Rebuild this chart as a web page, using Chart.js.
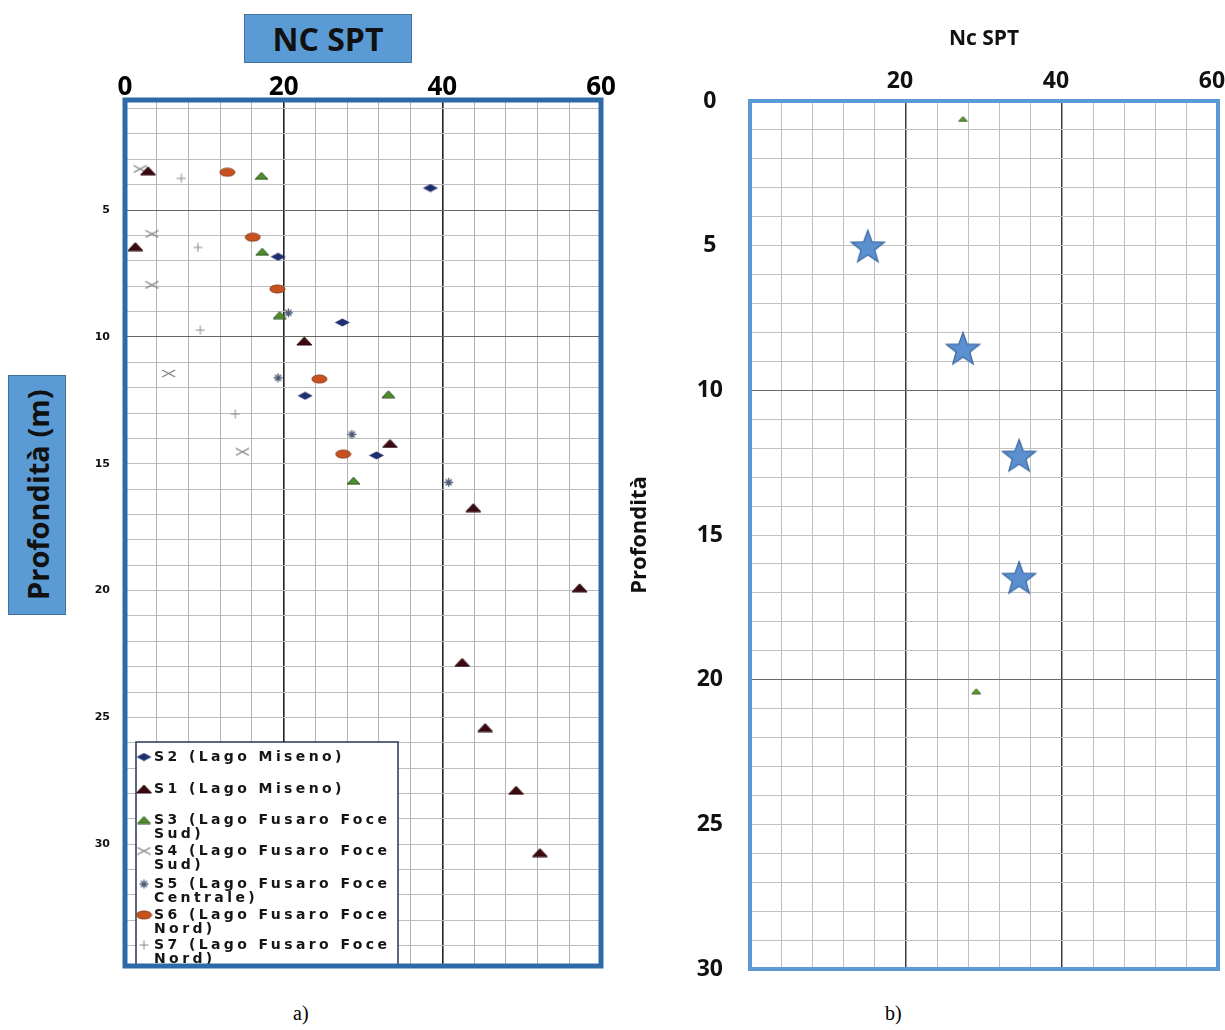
<!DOCTYPE html>
<html>
<head>
<meta charset="utf-8">
<script src="https://cdn.jsdelivr.net/npm/chart.js@4.4.1/dist/chart.umd.min.js"></script>
<style>
  body { margin: 0; background: #fff; width: 1225px; height: 1030px; position: relative; overflow: hidden; font-family: "Open Sans", sans-serif; }
  .box { position: absolute; background: #5b9bd5; border: 1px solid #41719c; color: #111; font-weight: bold; display: flex; align-items: center; justify-content: center; box-sizing: border-box; }
  #ncTitle { left: 244px; top: 14px; width: 168px; height: 49px; font-size: 32px; }
  #depthTitle { left: 8px; top: 375px; width: 58px; height: 240px; font-size: 29px; writing-mode: vertical-rl; transform: rotate(180deg); }
  .cap { position: absolute; top: 1002px; font-family: "Liberation Serif", serif; font-size: 20px; color: #000; }
  #wrapA { position: absolute; left: 70px; top: 0; }
  #wrapB { position: absolute; left: 620px; top: 0; }
</style>
</head>
<body>
<div class="box" id="ncTitle">NC SPT</div>
<div class="box" id="depthTitle">Profondità (m)</div>
<div id="wrapA"><canvas id="chartA" width="550" height="980"></canvas></div>
<div id="wrapB"><canvas id="chartB" width="616" height="987"></canvas></div>
<div class="cap" style="left:293px">a)</div>
<div class="cap" style="left:885px">b)</div>

<script>
// ---- dati pannello a) : N SPT (x) e profondità in m (y)
const s2N = [38.5, 19.3, 27.4, 22.7, 31.7];
const s2Z = [4.13, 6.84, 9.43, 12.32, 14.67];
const s1N = [2.9, 1.3, 22.6, 33.4, 43.9, 57.3, 42.5, 45.4, 49.3, 52.3];
const s1Z = [3.45, 6.44, 10.16, 14.2, 16.73, 19.89, 22.83, 25.4, 27.87, 30.33];
const s3N = [17.2, 17.3, 19.5, 33.2, 28.8];
const s3Z = [3.65, 6.64, 9.14, 12.26, 15.67];
const s4N = [1.9, 3.4, 3.4, 5.5, 14.8];
const s4Z = [3.38, 5.94, 7.95, 11.44, 14.53];
const s5N = [20.6, 19.3, 28.6, 40.8];
const s5Z = [9.05, 11.61, 13.84, 15.73];
const s6N = [12.9, 16.1, 19.2, 24.5, 27.5];
const s6Z = [3.51, 6.07, 8.11, 11.66, 14.62];
const s7N = [7.1, 9.2, 9.5, 13.9];
const s7Z = [3.75, 6.47, 9.73, 13.04];
const legendLabels = [
  "S2 (Lago Miseno)",
  "S1 (Lago Miseno)",
  "S3 (Lago Fusaro Foce\nSud)",
  "S4 (Lago Fusaro Foce\nSud)",
  "S5 (Lago Fusaro Foce\nCentrale)",
  "S6 (Lago Fusaro Foce\nNord)",
  "S7 (Lago Fusaro Foce\nNord)"
];

// ---- dati pannello b)
const starN = [15.1, 27.3, 34.5, 34.5];
const starZ = [5.02, 8.55, 12.25, 16.47];
const greenN = [27.3, 29.0];
const greenZ = [0.62, 20.4];

const xTicksA = [0, 20, 40, 60];
const xTicksB = [20, 40, 60];
const depthTicks = [0, 5, 10, 15, 20, 25, 30];

const pts = (xs, ys) => xs.map((x, i) => ({ x: x, y: ys[i] }));

// marker disegnati su canvas (forme schiacciate come nella scansione)
function marker(w, h, draw) {
  const c = document.createElement("canvas");
  c.width = w; c.height = h;
  draw(c.getContext("2d"), w, h);
  return c;
}
function tri(fill, stroke, w, h) {
  return marker(w, h, (g) => {
    g.fillStyle = fill; g.strokeStyle = stroke; g.lineWidth = 1;
    g.beginPath(); g.moveTo(w / 2, 1); g.lineTo(w - 1, h - 1); g.lineTo(1, h - 1); g.closePath();
    g.fill(); g.stroke();
  });
}
const mS1 = tri("#3b0a10", "#2a0508", 17, 10);
const mS3 = tri("#4e8f2a", "#2d4f1a", 15, 9);
const mGreenSmall = tri("#5a9a2a", "#3a5f1e", 11, 7);
const mS2 = marker(16, 9, (g, w, h) => {
  g.fillStyle = "#1f2f6e";
  g.beginPath(); g.moveTo(0.5, h / 2); g.lineTo(w / 2, 0.5); g.lineTo(w - 0.5, h / 2); g.lineTo(w / 2, h - 0.5); g.closePath(); g.fill();
});
const mS6 = marker(17, 10, (g, w, h) => {
  g.fillStyle = "#c8521e"; g.strokeStyle = "#8a3a1a"; g.lineWidth = 1;
  g.beginPath(); g.ellipse(w / 2, h / 2, w / 2 - 1, h / 2 - 1, 0, 0, Math.PI * 2); g.fill(); g.stroke();
});
const mS4 = marker(15, 9, (g, w, h) => {
  g.strokeStyle = "#7a7a7a"; g.lineWidth = 1.2;
  g.beginPath(); g.moveTo(1, 1); g.lineTo(w - 1, h - 1); g.moveTo(1, h - 1); g.lineTo(w - 1, 1); g.stroke();
});
const mS5 = marker(11, 11, (g, w, h) => {
  g.strokeStyle = "#4d5d75"; g.lineWidth = 1.3;
  g.beginPath(); g.moveTo(w / 2, 1); g.lineTo(w / 2, h - 1); g.moveTo(1, h / 2); g.lineTo(w - 1, h / 2);
  g.moveTo(2.5, 2.5); g.lineTo(w - 2.5, h - 2.5); g.moveTo(2.5, h - 2.5); g.lineTo(w - 2.5, 2.5); g.stroke();
});
const mS7 = marker(10, 10, (g, w, h) => {
  g.strokeStyle = "#8a8a8a"; g.lineWidth = 1;
  g.beginPath(); g.moveTo(w / 2, 0.5); g.lineTo(w / 2, h - 0.5); g.moveTo(0.5, h / 2); g.lineTo(w - 0.5, h / 2); g.stroke();
});
const mStar = marker(38, 36, (g, w, h) => {
  const cx = w / 2, cy = h / 2 + 1.5, R = 17.5, r = 7.2;
  g.beginPath();
  for (let i = 0; i < 10; i++) {
    const a = -Math.PI / 2 + i * Math.PI / 5;
    const rr = i % 2 === 0 ? R : r;
    g.lineTo(cx + rr * Math.cos(a), cy + rr * Math.sin(a));
  }
  g.closePath();
  g.fillStyle = "#5b8fd0"; g.fill();
  g.strokeStyle = "#3b679e"; g.lineWidth = 1.2; g.stroke();
});

// cornice spessa attorno all'area del grafico
const framePlugin = {
  id: "frame",
  afterDraw(chart, args, opts) {
    const { ctx, chartArea: a } = chart;
    ctx.save();
    ctx.strokeStyle = opts.color;
    ctx.lineWidth = opts.width;
    ctx.strokeRect(a.left, a.top, a.right - a.left, a.bottom - a.top);
    ctx.restore();
  }
};

// legenda dentro l'area del grafico, tagliata in basso come nell'originale
const insideLegend = {
  id: "insideLegend",
  afterDatasetsDraw(chart) {
    const { ctx, chartArea: a } = chart;
    const x0 = a.left + 11, y0 = a.bottom - 224, w = 262;
    const rows = [15, 47, 78, 109, 142, 173, 203];
    ctx.save();
    ctx.beginPath(); ctx.rect(a.left, a.top, a.right - a.left, a.bottom - a.top); ctx.clip();
    ctx.fillStyle = "#fff"; ctx.fillRect(x0, y0, w, 240);
    ctx.strokeStyle = "#2a3550"; ctx.lineWidth = 1.5; ctx.strokeRect(x0, y0, w, 240);
    ctx.font = 'bold 14px "DejaVu Sans"';
    ctx.letterSpacing = "3.4px";
    ctx.fillStyle = "#151515";
    ctx.textBaseline = "middle";
    chart.data.datasets.forEach((ds, i) => {
      const y = y0 + rows[i];
      const img = ds.pointStyle;
      ctx.drawImage(img, x0 + 8 - img.width / 2, y - img.height / 2);
      ds.label.split("\n").forEach((line, k) => ctx.fillText(line, x0 + 18, y + k * 14));
    });
    ctx.restore();
  }
};

Chart.defaults.animation = false;

// niente margini automatici dovuti alle etichette: l'area del grafico la decide layout.padding
function fixX(h) { return (s) => { s.height = h; s.paddingLeft = 0; s.paddingRight = 0; }; }
function fixY(w) { return (s) => { s.width = w; s.paddingTop = 0; s.paddingBottom = 0; }; }

function ds(label, xs, ys, img) {
  return { label: label, data: pts(xs, ys), pointStyle: img, pointRadius: 6, pointHoverRadius: 6 };
}

// ---------------- pannello a)
new Chart(document.getElementById("chartA"), {
  type: "scatter",
  plugins: [framePlugin, insideLegend],
  data: {
    datasets: [
      ds(legendLabels[0], s2N, s2Z, mS2),
      ds(legendLabels[1], s1N, s1Z, mS1),
      ds(legendLabels[2], s3N, s3Z, mS3),
      ds(legendLabels[3], s4N, s4Z, mS4),
      ds(legendLabels[4], s5N, s5Z, mS5),
      ds(legendLabels[5], s6N, s6Z, mS6),
      ds(legendLabels[6], s7N, s7Z, mS7)
    ]
  },
  options: {
    responsive: false,
    layout: { padding: { right: 19, bottom: 14 } },
    plugins: {
      legend: { display: false },
      tooltip: { enabled: false },
      frame: { color: "#2f6aa8", width: 5 }
    },
    scales: {
      x: {
        type: "linear", position: "top", min: 0, max: 60,
        afterFit: fixX(100),
        border: { display: false },
        grid: {
          drawTicks: false,
          color: (c) => (c.tick.value === 20 || c.tick.value === 40) ? "#222" : "#b3b3b3",
          lineWidth: (c) => (c.tick.value === 20 || c.tick.value === 40) ? 1.6 : 1
        },
        ticks: {
          stepSize: 4, autoSkip: false, maxRotation: 0, padding: -3, color: "#000",
          font: { family: "Open Sans", size: 26, weight: "bold" },
          callback: (v) => xTicksA.includes(v) ? v : ""
        }
      },
      y: {
        type: "linear", reverse: true, min: 0.66, max: 34.8,
        afterFit: fixY(55),
        border: { display: false },
        grid: {
          drawTicks: false,
          color: (c) => (c.tick.value === 5 || c.tick.value === 10) ? "#666" : "#bdbdbd"
        },
        ticks: {
          stepSize: 1, autoSkip: false, includeBounds: false, padding: 15, color: "#111",
          font: { family: "DejaVu Sans", size: 11, weight: "bold" },
          callback: (v) => depthTicks.includes(v) ? v : ""
        }
      }
    }
  }
});

// ---------------- pannello b)
new Chart(document.getElementById("chartB"), {
  type: "scatter",
  plugins: [framePlugin],
  data: {
    datasets: [
      { label: "S3", data: pts(greenN, greenZ), pointStyle: mGreenSmall, pointRadius: 4 },
      { label: "Nc SPT", data: pts(starN, starZ), pointStyle: mStar, pointRadius: 17 }
    ]
  },
  options: {
    responsive: false,
    layout: { padding: { right: 7, bottom: 12 } },
    plugins: {
      legend: { display: false },
      tooltip: { enabled: false },
      frame: { color: "#5b9bd5", width: 4 }
    },
    scales: {
      x: {
        type: "linear", position: "top", min: 0, max: 60,
        afterFit: fixX(101),
        border: { display: false },
        title: {
          display: true, text: "Nc SPT", color: "#111",
          font: { family: "Open Sans", size: 21, weight: "bold" },
          padding: { top: 26, bottom: 0 }
        },
        grid: {
          drawTicks: false,
          color: (c) => (c.tick.value === 20 || c.tick.value === 40) ? "#3a3a3a" : "#bfbfbf",
          lineWidth: (c) => (c.tick.value === 20 || c.tick.value === 40) ? 1.5 : 1
        },
        ticks: {
          stepSize: 4, autoSkip: false, maxRotation: 0, padding: 6, labelOffset: -6, color: "#111",
          font: { family: "Open Sans", size: 23, weight: "bold" },
          callback: (v) => xTicksB.includes(v) ? v : ""
        }
      },
      y: {
        type: "linear", reverse: true, min: 0, max: 30,
        afterFit: fixY(130),
        border: { display: false },
        title: {
          display: true, text: "Profondità", color: "#111",
          font: { family: "Open Sans", size: 22, weight: "bold" },
          padding: { top: 7, bottom: 0 }
        },
        grid: {
          drawTicks: false,
          color: (c) => (c.tick.value === 10 || c.tick.value === 20) ? "#6a6a6a" : "#c2c2c2"
        },
        ticks: {
          stepSize: 1, autoSkip: false, padding: 27, crossAlign: "center", color: "#111",
          font: { family: "Open Sans", size: 23, weight: "bold" },
          callback: (v) => depthTicks.includes(v) ? v : ""
        }
      }
    }
  }
});
</script>
</body>
</html>
